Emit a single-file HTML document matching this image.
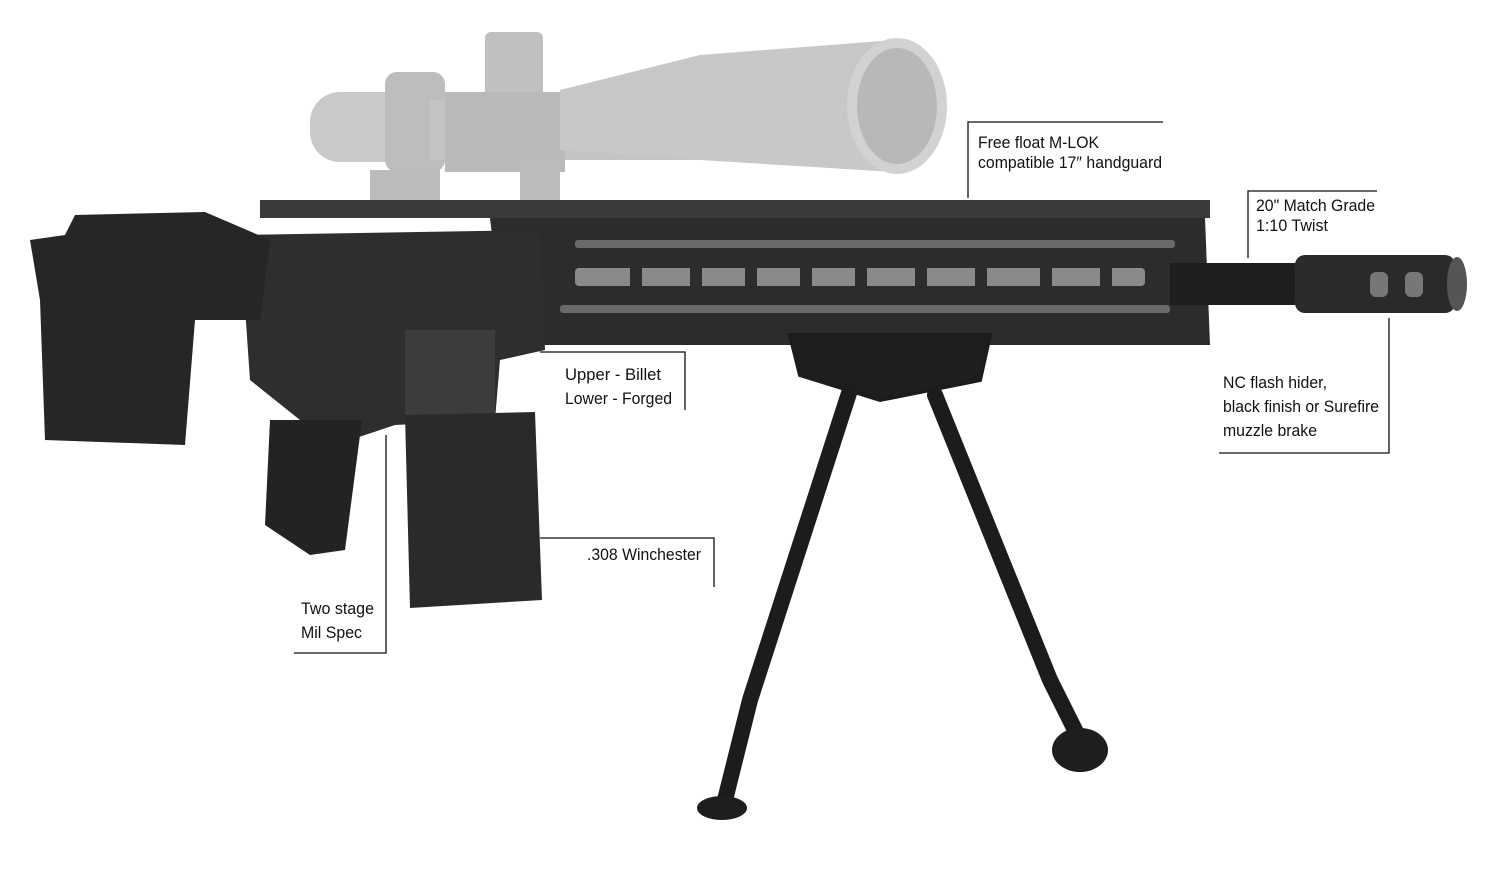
<!DOCTYPE html>
<html><head><meta charset="utf-8"><style>
html,body{margin:0;padding:0;background:#fff;}
svg{display:block}
text{font-family:"Liberation Sans",sans-serif;font-size:17px;fill:#111;}
</style></head><body>
<svg width="1500" height="871" viewBox="0 0 1500 871" xmlns="http://www.w3.org/2000/svg">
<!-- scope -->
<g fill="#c9c9c9">
<rect x="310" y="92" width="140" height="70" rx="30"/>
<rect x="385" y="72" width="60" height="100" rx="12" fill="#bdbdbd"/>
<rect x="430" y="100" width="290" height="60" fill="#c4c4c4"/>
<rect x="485" y="32" width="58" height="90" rx="6" fill="#c0c0c0"/>
<rect x="445" y="92" width="120" height="80" fill="#bababa"/>
<path d="M560 90 L700 55 L895 40 L895 172 L700 160 L560 150 Z" fill="#c8c8c8"/>
<ellipse cx="897" cy="106" rx="50" ry="68" fill="#d2d2d2"/>
<ellipse cx="897" cy="106" rx="40" ry="58" fill="#b8b8b8"/>
<rect x="370" y="170" width="70" height="40" fill="#bcbcbc"/>
<rect x="520" y="160" width="40" height="45" fill="#bcbcbc"/>
</g>
<!-- rail -->
<rect x="260" y="200" width="950" height="18" fill="#3a3a3a"/>
<!-- handguard -->
<path d="M490 218 L1205 218 L1210 345 L505 345 Z" fill="#2c2c2c"/>
<g fill="#6a6a6a">
<rect x="575" y="240" width="600" height="8" rx="3"/>
<rect x="575" y="268" width="570" height="18" rx="4" fill="#8a8a8a"/>
<rect x="560" y="305" width="610" height="8" rx="3"/>
</g>
<g fill="#2c2c2c">
<rect x="630" y="265" width="12" height="25"/><rect x="690" y="265" width="12" height="25"/><rect x="745" y="265" width="12" height="25"/><rect x="800" y="265" width="12" height="25"/><rect x="855" y="265" width="12" height="25"/><rect x="915" y="265" width="12" height="25"/><rect x="975" y="265" width="12" height="25"/><rect x="1040" y="265" width="12" height="25"/><rect x="1100" y="265" width="12" height="25"/>
</g>
<!-- barrel & brake -->
<rect x="1170" y="263" width="130" height="42" fill="#1e1e1e"/>
<rect x="1295" y="255" width="160" height="58" rx="10" fill="#2a2a2a"/>
<ellipse cx="1457" cy="284" rx="10" ry="27" fill="#555"/>
<rect x="1370" y="272" width="18" height="25" rx="6" fill="#777"/>
<rect x="1405" y="272" width="18" height="25" rx="6" fill="#777"/>
<!-- receiver -->
<path d="M240 235 L540 230 L545 350 L500 360 L495 420 L395 425 L350 440 L300 420 L250 380 Z" fill="#2e2e2e"/>
<rect x="405" y="330" width="90" height="85" fill="#3c3c3c"/>
<!-- stock -->
<path d="M30 240 L65 235 L75 215 L205 212 L270 240 L260 320 L195 320 L185 445 L45 440 L40 300 Z" fill="#262626"/>
<!-- grip -->
<path d="M270 420 L362 420 L345 550 L310 555 L265 525 Z" fill="#232323"/>
<!-- magazine -->
<path d="M405 415 L535 412 L542 600 L410 608 Z" fill="#2a2a2a"/>
<!-- bipod -->
<g stroke="#1c1c1c" fill="none" stroke-linecap="round">
<path d="M790 335 L990 335 L980 380 L880 400 L800 375 Z" fill="#1e1e1e" stroke-width="4"/>
<path d="M850 390 L750 700 L725 800" stroke-width="16"/>
<path d="M935 395 L1050 680 L1080 740" stroke-width="16"/>
</g>
<ellipse cx="722" cy="808" rx="25" ry="12" fill="#1e1e1e"/>
<ellipse cx="1080" cy="750" rx="28" ry="22" fill="#1e1e1e"/>
<!-- leader lines -->
<g stroke="#111" stroke-width="1.3" fill="none">
<polyline points="1163,122 968,122 968,198"/>
<polyline points="1377,191 1248,191 1248,258"/>
<polyline points="1389,318 1389,453 1219,453"/>
<polyline points="540,352 685,352 685,410"/>
<polyline points="540,538 714,538 714,587"/>
<polyline points="386,435 386,653 294,653"/>
</g>
<g lengthAdjust="spacingAndGlyphs">
<text x="978" y="148" textLength="121" lengthAdjust="spacingAndGlyphs">Free float M-LOK</text>
<text x="978" y="168" textLength="184" lengthAdjust="spacingAndGlyphs">compatible 17″ handguard</text>
<text x="1256" y="211" textLength="119" lengthAdjust="spacingAndGlyphs">20" Match Grade</text>
<text x="1256" y="231" textLength="72" lengthAdjust="spacingAndGlyphs">1:10 Twist</text>
<text x="1223" y="388" textLength="104" lengthAdjust="spacingAndGlyphs">NC flash hider,</text>
<text x="1223" y="412" textLength="156" lengthAdjust="spacingAndGlyphs">black finish or Surefire</text>
<text x="1223" y="436" textLength="94" lengthAdjust="spacingAndGlyphs">muzzle brake</text>
<text x="565" y="380" textLength="96" lengthAdjust="spacingAndGlyphs">Upper -  Billet</text>
<text x="565" y="404" textLength="107" lengthAdjust="spacingAndGlyphs">Lower - Forged</text>
<text x="587" y="560" textLength="114" lengthAdjust="spacingAndGlyphs">.308 Winchester</text>
<text x="301" y="614" textLength="73" lengthAdjust="spacingAndGlyphs">Two stage</text>
<text x="301" y="638" textLength="61" lengthAdjust="spacingAndGlyphs">Mil Spec</text>
</g>
</svg>
</body></html>
